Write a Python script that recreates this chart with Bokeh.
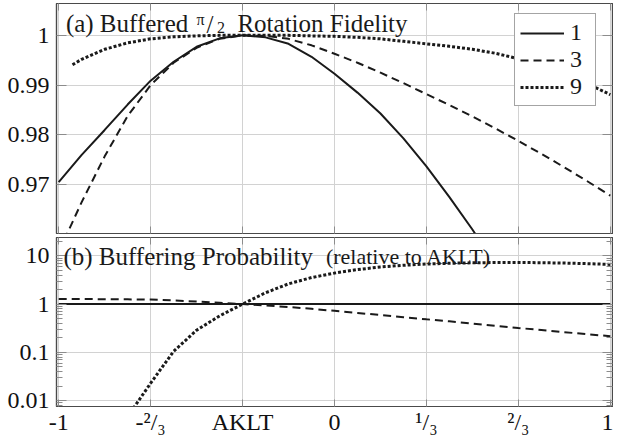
from bokeh.plotting import figure
from bokeh.layouts import column
from bokeh.models import (Range1d, FixedTicker, CustomJSTickFormatter, LinearAxis,
                          LogAxis, Legend, LegendItem, Label)
from bokeh.embed import file_html
from bokeh.resources import INLINE

FONT = "Liberation Serif"
INK = "#1a1a1a"
FRAME = "#4a4a4a"
GRID = "#d2d2d2"
TICK = "#8c8c8c"

# ---------------- data ----------------
X = [-1.0, -0.9167, -0.8333, -0.75, -0.6667, -0.5833, -0.5, -0.4167, -0.3333,
     -0.25, -0.1667, -0.0833, 0.0, 0.0833, 0.1667, 0.25, 0.3333, 0.4167, 0.5,
     0.5833, 0.6667, 0.75, 0.8333, 0.9167, 1.0]

SERIES = ["1", "3", "9"]

# (a) buffered pi/2 rotation fidelity
FID_X_1 = X[:20]
FID_1 = [0.9705, 0.9760, 0.9810, 0.9861, 0.9909, 0.9947, 0.9977, 0.9994, 1.0000,
         0.9996, 0.9983, 0.9957, 0.9923, 0.9885, 0.9843, 0.9793, 0.9737, 0.9675,
         0.9610, 0.9540]
FID_X_3 = X
FID_3 = [0.9565, 0.9665, 0.9757, 0.9838, 0.9900, 0.9945, 0.9975, 0.9993, 1.0000,
         0.9999, 0.9993, 0.9980, 0.9963, 0.9945, 0.9925, 0.9904, 0.9882, 0.9860,
         0.9837, 0.9813, 0.9788, 0.9762, 0.9735, 0.9707, 0.9678]
FID_X_9 = [-0.95] + X[1:]
FID_9 = [0.9941, 0.9952, 0.9972, 0.9985, 0.9993, 0.9997, 0.9999, 1.0000, 1.0000,
         1.0000, 1.0000, 0.9999, 0.9998, 0.9996, 0.9993, 0.9988, 0.9983, 0.9978,
         0.9972, 0.9964, 0.9953, 0.9939, 0.9922, 0.9903, 0.9881]

# (b) buffering probability relative to AKLT
PROB_X_1 = [-1.0, 1.0]
PROB_1 = [1.0, 1.0]
PROB_X_3 = X
PROB_3 = [1.279, 1.274, 1.265, 1.253, 1.239, 1.191, 1.132, 1.067, 1.000, 0.937,
          0.871, 0.798, 0.724, 0.656, 0.593, 0.536, 0.484, 0.439, 0.395, 0.356,
          0.320, 0.290, 0.262, 0.238, 0.216]
PROB_X_9 = X[3:]
PROB_9 = [0.00468, 0.0229, 0.105, 0.288, 0.569, 1.0, 1.718, 2.63, 3.55, 4.39,
          5.19, 5.89, 6.38, 6.76, 7.01, 7.18, 7.26, 7.28, 7.21, 7.08, 6.89, 6.64]

X_TICKS = [-1.0, -2 / 3, -1 / 3, 0.0, 1 / 3, 2 / 3, 1.0]
X_TICK_LABELS = ["-1", "-²/₃", "AKLT", "0", "¹/₃", "²/₃", "1"]
FID_TICKS = [0.97, 0.98, 0.99, 1.0]
PROB_TICKS = [0.01, 0.1, 1.0, 10.0]
PROB_MINOR = [m * 10.0 ** k for k in range(-3, 2) for m in range(2, 10)]

TITLE_A = "(a) Buffered"
TITLE_A_PI = "π"
TITLE_A_SLASH = "/"
TITLE_A_TWO = "2"
TITLE_A_REST = "Rotation Fidelity"
TITLE_B = "(b) Buffering Probability"
TITLE_B_SMALL = "(relative to AKLT)"

X_MIN, X_MAX = -1.008, 1.008
FID_MIN, FID_MAX = 0.9602, 1.0064
PROB_MIN, PROB_MAX = 0.00755, 24.0

LINE_STYLES = {
    "1": dict(line_dash="solid", line_width=2.0),
    "3": dict(line_dash="8 5", line_width=2.0),
    "9": dict(line_dash="3 2", line_width=3.0),
}

x_fmt = CustomJSTickFormatter(args=dict(t=X_TICKS, l=X_TICK_LABELS), code="""
let best = 0;
for (let i = 0; i < t.length; i++) {
  if (Math.abs(t[i] - tick) < Math.abs(t[best] - tick)) best = i;
}
return l[best];
""")
fid_fmt = CustomJSTickFormatter(code="return String(Math.round(tick * 100) / 100);")
prob_fmt = CustomJSTickFormatter(code="return String(Number(tick.toPrecision(2)));")


def style_axis(ax, tick_in, minor_in=0, standoff=0, font=FONT):
    ax.major_tick_in = tick_in
    ax.major_tick_out = 0
    ax.minor_tick_in = minor_in
    ax.minor_tick_out = 0
    ax.major_tick_line_color = TICK
    ax.minor_tick_line_color = TICK
    ax.axis_line_color = FRAME
    ax.axis_line_width = 1.2
    ax.major_label_text_font = font
    ax.major_label_text_color = "#111111"
    ax.major_label_text_font_size = "24px"
    ax.major_label_standoff = standoff


def tick_only_axis(cls, ticker, tick_in, minor_in=0):
    ax = cls(ticker=ticker)
    style_axis(ax, tick_in, minor_in)
    ax.major_label_text_color = None
    ax.major_label_text_font_size = "1px"
    ax.major_label_standoff = 0
    ax.formatter = CustomJSTickFormatter(code="return '';")
    return ax


def base_style(p):
    p.outline_line_color = FRAME
    p.outline_line_width = 1.2
    p.background_fill_color = "white"
    p.border_fill_color = "white"
    for g in p.grid:
        g.grid_line_color = GRID
        g.grid_line_width = 1.0


W = 613
# ---------------- top panel ----------------
top = figure(width=W, height=235, x_range=Range1d(X_MIN, X_MAX),
             y_range=Range1d(FID_MIN, FID_MAX), output_backend="svg",
             toolbar_location=None, min_border_left=56, min_border_right=1,
             min_border_top=3, min_border_bottom=2, x_axis_location=None)
base_style(top)
top.xgrid.ticker = FixedTicker(ticks=X_TICKS)
top.yaxis.ticker = FixedTicker(ticks=FID_TICKS)
top.ygrid.ticker = FixedTicker(ticks=FID_TICKS)
top.yaxis.formatter = fid_fmt
style_axis(top.yaxis[0], 10, standoff=7)
top.add_layout(tick_only_axis(LinearAxis, FixedTicker(ticks=FID_TICKS), 10), "right")
top.add_layout(tick_only_axis(LinearAxis, FixedTicker(ticks=X_TICKS), 7), "above")
top.add_layout(tick_only_axis(LinearAxis, FixedTicker(ticks=X_TICKS), 7), "below")

r1 = top.line(FID_X_1, FID_1, line_color=INK, **LINE_STYLES["1"])
r3 = top.line(FID_X_3, FID_3, line_color=INK, **LINE_STYLES["3"])
r9 = top.line(FID_X_9, FID_9, line_color=INK, **LINE_STYLES["9"])

legend = Legend(items=[LegendItem(label=SERIES[0], renderers=[r1]),
                       LegendItem(label=SERIES[1], renderers=[r3]),
                       LegendItem(label=SERIES[2], renderers=[r9])],
                location=(458, 127), orientation="vertical")
legend.label_text_font = FONT
legend.label_text_font_size = "24px"
legend.label_text_color = INK
legend.glyph_width = 44
legend.glyph_height = 24
legend.label_height = 24
legend.label_width = 20
legend.label_standoff = 6
legend.spacing = 0
legend.padding = 5
legend.margin = 0
legend.border_line_color = FRAME
legend.border_line_width = 1.2
legend.background_fill_color = "white"
legend.background_fill_alpha = 1.0
top.add_layout(legend, "center")

fid_unit = (FID_MAX - FID_MIN) / 230.0
y_a = 1.0 + 11.7 * fid_unit
top.add_layout(Label(x=-0.974, y=y_a, text=TITLE_A, text_font=FONT,
                     text_font_size="25px", text_color=INK, text_baseline="alphabetic"))
top.add_layout(Label(x=-0.500, y=y_a + 4.3 * fid_unit, text=TITLE_A_PI, text_font=FONT,
                     text_font_size="16px", text_color=INK, text_baseline="alphabetic"))
top.add_layout(Label(x=-0.464, y=y_a - 1.0 * fid_unit, text=TITLE_A_SLASH, text_font=FONT,
                     text_font_size="25px", text_color=INK, text_baseline="alphabetic"))
top.add_layout(Label(x=-0.426, y=y_a - 4.0 * fid_unit, text=TITLE_A_TWO, text_font=FONT,
                     text_font_size="16px", text_color=INK, text_baseline="alphabetic"))
top.add_layout(Label(x=-0.352, y=y_a, text=TITLE_A_REST, text_font=FONT,
                     text_font_size="25px", text_color=INK, text_baseline="alphabetic"))

# ---------------- bottom panel ----------------
bot = figure(width=W, height=202, x_range=top.x_range,
             y_range=Range1d(PROB_MIN, PROB_MAX), y_axis_type="log",
             output_backend="svg", toolbar_location=None, min_border_left=56,
             min_border_right=1, min_border_top=2, min_border_bottom=29)
base_style(bot)
bot.xaxis.ticker = FixedTicker(ticks=X_TICKS)
bot.xgrid.ticker = FixedTicker(ticks=X_TICKS)
bot.xaxis.formatter = x_fmt
bot.yaxis.ticker = FixedTicker(ticks=PROB_TICKS, minor_ticks=PROB_MINOR)
bot.ygrid.ticker = FixedTicker(ticks=PROB_TICKS)
bot.yaxis.formatter = prob_fmt
style_axis(bot.xaxis[0], 7, standoff=2)
style_axis(bot.yaxis[0], 10, minor_in=6, standoff=7)
bot.add_layout(tick_only_axis(LogAxis, FixedTicker(ticks=PROB_TICKS, minor_ticks=PROB_MINOR), 10, 6), "right")
bot.add_layout(tick_only_axis(LinearAxis, FixedTicker(ticks=X_TICKS), 7), "above")

bot.line(PROB_X_1, PROB_1, line_color=INK, **LINE_STYLES["1"])
bot.line(PROB_X_3, PROB_3, line_color=INK, **LINE_STYLES["3"])
bot.line(PROB_X_9, PROB_9, line_color=INK, **LINE_STYLES["9"])

y_b = 10 ** (1 - 1.0 / 48.8)
bot.add_layout(Label(x=-0.983, y=y_b, text=TITLE_B, text_font=FONT,
                     text_font_size="25px", text_color=INK, text_baseline="alphabetic"))
bot.add_layout(Label(x=-0.031, y=y_b, text=TITLE_B_SMALL, text_font=FONT,
                     text_font_size="22px", text_color=INK, text_baseline="alphabetic"))

page = column(top, bot, spacing=0)
open("out.html", "w").write(file_html(page, INLINE))
